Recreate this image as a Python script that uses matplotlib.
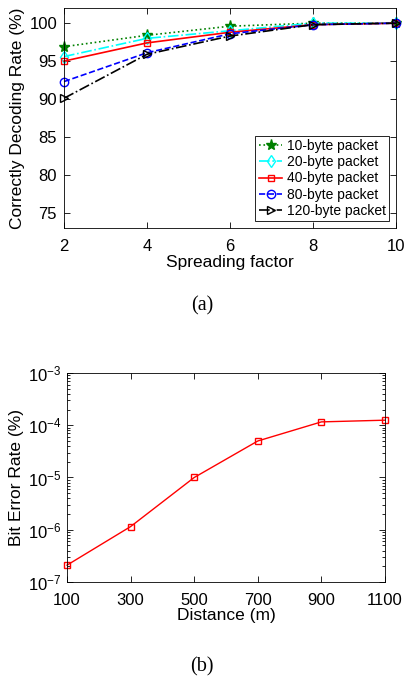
import matplotlib
matplotlib.use("Agg")
import matplotlib.pyplot as plt
from matplotlib.ticker import LogLocator, NullFormatter

plt.rcParams['font.family'] = ['Liberation Sans', 'DejaVu Sans']
plt.rcParams['mathtext.fontset'] = 'custom'
plt.rcParams['mathtext.rm'] = 'Liberation Sans'
plt.rcParams['axes.unicode_minus'] = False

# ---- data (a)
sf = [2, 4, 6, 8, 10]
rate_10 = [96.9, 98.4, 99.6, 100.0, 100.0]
rate_20 = [95.6, 98.0, 99.0, 100.0, 100.0]
rate_40 = [95.0, 97.4, 98.8, 99.8, 100.0]
rate_80 = [92.3, 96.1, 98.6, 99.8, 100.0]
rate_120 = [90.1, 95.9, 98.3, 99.8, 100.0]
labels_a = ['10-byte packet', '20-byte packet', '40-byte packet', '80-byte packet', '120-byte packet']

# ---- data (b)
dist = [100, 300, 500, 700, 900, 1100]
ber = [2.1e-7, 1.15e-6, 1.0e-5, 5.0e-5, 1.16e-4, 1.25e-4]

fig = plt.figure(figsize=(4.04, 6.77), dpi=100)

ax1 = fig.add_axes([64/404, 1-228/677, (396-64)/404, (228-8)/677])
styles = [
    dict(color='green', ls=':', marker='*', ms=8, mfc='green'),
    dict(color='cyan', ls='-.', marker='d', ms=6, mfc='none'),
    dict(color='red', ls='-', marker='s', ms=5, mfc='none'),
    dict(color='blue', ls='--', marker='o', ms=6, mfc='none'),
    dict(color='black', ls='-.', marker='>', ms=6, mfc='none'),
]
for y, lab, st in zip([rate_10, rate_20, rate_40, rate_80, rate_120], labels_a, styles):
    ax1.plot(sf, y, label=lab, lw=1.2, mew=1.0, clip_on=False, **st)
ax1.set_xlim(2, 10)
ax1.set_ylim(73, 102)
ax1.set_xticks(sf)
ax1.set_yticks([75, 80, 85, 90, 95, 100])
ax1.set_xlabel('Spreading factor', fontsize=12.5, labelpad=1)
ax1.set_ylabel('Correctly Decoding Rate (%)', fontsize=12.5, labelpad=3)
ax1.tick_params(direction='in', top=True, right=True, labelsize=12, length=4, width=0.6, pad=5)
ax1.tick_params(axis='x', pad=8)
leg = ax1.legend(loc='lower right', fontsize=10, fancybox=False, framealpha=1,
                 edgecolor='black', handlelength=1.7, handletextpad=0.3,
                 borderpad=0.25, labelspacing=0.15, borderaxespad=0.5)
leg.get_frame().set_linewidth(0.6)
for s in ax1.spines.values():
    s.set_linewidth(0.6)
fig.text(0.5, 1-306/677, '(a)', ha='center', va='center', fontsize=14.5, family='Liberation Serif')

ax2 = fig.add_axes([67/404, 1-582/677, (385-67)/404, (582-373)/677])
ax2.semilogy(dist, ber, color='red', ls='-', marker='s', ms=5, mfc='none', lw=1.0, mew=1.0, clip_on=False)
ax2.set_xlim(100, 1100)
ax2.set_ylim(1e-7, 1e-3)
ax2.set_xticks(dist)
ax2.yaxis.set_major_locator(LogLocator(base=10, numticks=10))
ax2.yaxis.set_minor_locator(LogLocator(base=10, subs=range(2, 10), numticks=20))
ax2.yaxis.set_minor_formatter(NullFormatter())
ax2.set_xlabel('Distance (m)', fontsize=12.5, labelpad=0)
ax2.set_ylabel('Bit Error Rate (%)', fontsize=12.5, labelpad=3)
ax2.tick_params(direction='in', which='both', top=True, right=True, labelsize=12, width=0.6)
ax2.tick_params(which='major', length=4, pad=4)
ax2.tick_params(axis='x', pad=8)
ax2.tick_params(which='minor', length=2)
for s in ax2.spines.values():
    s.set_linewidth(0.6)
fig.text(0.5, 1-667/677, '(b)', ha='center', va='center', fontsize=14.5, family='Liberation Serif')

fig.savefig('out.png', dpi=100)
